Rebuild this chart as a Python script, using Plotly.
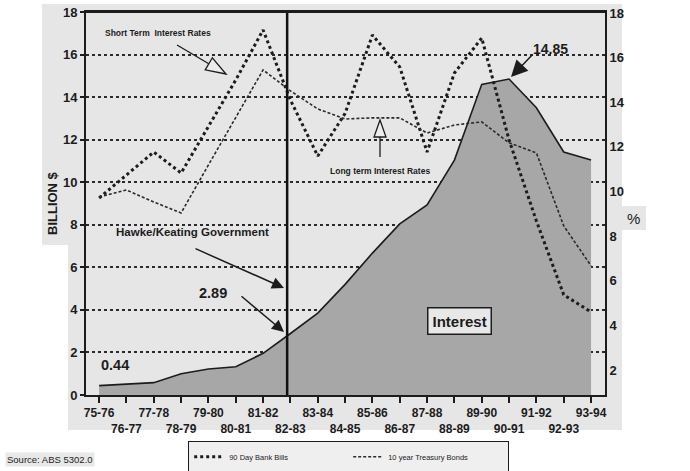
import plotly.graph_objects as go

categories = ["75-76", "76-77", "77-78", "78-79", "79-80", "80-81", "81-82", "82-83",
              "83-84", "84-85", "85-86", "86-87", "87-88", "88-89", "89-90", "90-91",
              "91-92", "92-93", "93-94"]
interest_bn = [0.44, 0.50, 0.58, 1.00, 1.22, 1.33, 1.96, 2.89, 3.85, 5.20, 6.67, 8.04,
               8.93, 11.04, 14.60, 14.85, 13.50, 11.42, 11.04]
bank_bills_pct = [9.71, 10.74, 11.77, 10.83, 12.94, 15.00, 17.24, 14.10, 11.59, 13.50,
                  17.01, 15.58, 11.77, 15.31, 16.88, 12.31, 8.68, 5.37, 4.60]
bonds_pct = [9.76, 10.07, 9.53, 9.04, 11.19, 13.30, 15.45, 14.51, 13.70, 13.25, 13.30,
             13.30, 12.62, 12.98, 13.12, 12.18, 11.73, 8.46, 6.67]
left_ticks = [0, 2, 4, 6, 8, 10, 12, 14, 16, 18]
right_ticks = [2, 4, 6, 8, 10, 12, 14, 16, 18]

FONT = "Liberation Sans, Arial, sans-serif"
INK = "#1c1c1c"
xs = list(range(len(categories)))
ticktext = [c if i % 2 == 0 else "<br>" + c for i, c in enumerate(categories)]

W, H = 690, 471
# plot area edges in pixels (used only to place decorations)
L, R, T, B = 86, 605, 12, 395
XR = [-0.48, 18.51]


def px2x(px):
    return XR[0] + (px - L) / (R - L) * (XR[1] - XR[0])


def px2y(py):
    return (B - py) / (B - T) * 18


def px2px(px):
    return (px - L) / (R - L)


def py2py(py):
    return (B - py) / (B - T)


fig = go.Figure()
fig.add_trace(go.Scatter(x=xs, y=interest_bn, mode="lines", fill="tozeroy",
                         fillcolor="#a7a7a7", line=dict(color=INK, width=1.6),
                         showlegend=False, name="Interest"))
fig.add_trace(go.Scatter(x=xs, y=bank_bills_pct, mode="lines", yaxis="y2",
                         line=dict(color=INK, width=3, dash="dot"),
                         name="90 Day Bank Bills"))
fig.add_trace(go.Scatter(x=xs, y=bonds_pct, mode="lines", yaxis="y2",
                         line=dict(color="#2a2a2a", width=1.6, dash="3px,2px"),
                         name="10 year Treasury Bonds"))

shapes = []
# scanned grey background patches
shapes.append(dict(type="rect", xref="paper", yref="paper", x0=px2px(68), x1=px2px(622),
                   y0=py2py(430), y1=py2py(4), fillcolor="#e6e6e6", line_width=0, layer="below"))
shapes.append(dict(type="rect", xref="paper", yref="paper", x0=px2px(42), x1=px2px(70),
                   y0=py2py(245), y1=py2py(4), fillcolor="#e6e6e6", line_width=0, layer="below"))
shapes.append(dict(type="rect", xref="paper", yref="paper", x0=px2px(620), x1=px2px(646),
                   y0=py2py(230), y1=py2py(206), fillcolor="#e6e6e6", line_width=0, layer="below"))
# Hawke/Keating divider
shapes.append(dict(type="line", xref="x", yref="paper", x0=6.88, x1=6.88, y0=0, y1=1,
                   line=dict(color="#111", width=2.5), layer="above"))
# top frame edge
shapes.append(dict(type="line", xref="paper", yref="paper", x0=0, x1=1, y0=1, y1=1,
                   line=dict(color=INK, width=2), layer="above"))


def hollow_arrow(tail, tip, hl, hw):
    import math
    dx, dy = tip[0] - tail[0], tip[1] - tail[1]
    n = math.hypot(dx, dy)
    ux, uy = dx / n, dy / n
    bx, by = tip[0] - hl * ux, tip[1] - hl * uy
    px_, py_ = -uy, ux
    c1 = (bx + hw * px_, by + hw * py_)
    c2 = (bx - hw * px_, by - hw * py_)
    out = [dict(type="line", xref="x", yref="y", x0=px2x(tail[0]), y0=px2y(tail[1]),
                x1=px2x(bx), y1=px2y(by), line=dict(color=INK, width=1.3), layer="above")]
    path = "M {} {} L {} {} L {} {} Z".format(px2x(tip[0]), px2y(tip[1]),
                                               px2x(c1[0]), px2y(c1[1]),
                                               px2x(c2[0]), px2y(c2[1]))
    out.append(dict(type="path", xref="x", yref="y", path=path, fillcolor="#ececec",
                    line=dict(color=INK, width=1.3), layer="above"))
    return out


shapes += hollow_arrow((177, 45), (226, 74), 20, 7)
shapes += hollow_arrow((380, 157), (380, 120), 17, 6)


def label(text, px, py, size, bold=True, **kw):
    return dict(text=text, x=px2x(px), y=px2y(py), showarrow=False,
                xanchor="center", yanchor="middle",
                font=dict(family=FONT, size=size, color=INK,
                          weight="bold" if bold else "normal"), **kw)


def arrow(tip, dx, dy, size):
    return dict(text="", x=px2x(tip[0]), y=px2y(tip[1]), ax=dx, ay=dy, showarrow=True,
                arrowhead=2, arrowsize=size, arrowwidth=1.5, arrowcolor=INK)


annotations = [
    label("Short Term  Interest Rates", 158, 33, 8.5),
    label("Long term Interest Rates", 380, 171, 8.5),
    label("Hawke/Keating Government", 192, 232, 11.5),
    arrow((284, 288), -90, -40, 1.6),
    label("2.89", 213, 293, 14.5),
    arrow((284, 332), -44, -37, 1.6),
    label("0.44", 115, 365, 14.5),
    label("14.85", 550, 49, 14),
    arrow((511, 77), 23, -24, 2.2),
    label("Interest", 459, 321, 15, bgcolor="#e8e8e8", bordercolor=INK,
          borderwidth=1.5, borderpad=4),
    dict(text="BILLION $", xref="paper", yref="paper", x=px2px(52), y=py2py(203),
         xanchor="center", yanchor="middle", textangle=-90, showarrow=False,
         font=dict(family=FONT, size=13, color=INK, weight="bold")),
    dict(text="%", xref="paper", yref="paper", x=px2px(633), y=py2py(218),
         xanchor="center", yanchor="middle", showarrow=False,
         font=dict(family=FONT, size=15, color=INK)),
    dict(text="Source: ABS 5302.0", xref="paper", yref="paper", x=px2px(5), y=py2py(459),
         xanchor="left", yanchor="middle", showarrow=False, bgcolor="#e8e8e8",
         font=dict(family=FONT, size=9.5, color=INK)),
]

fig.update_layout(
    width=W, height=H,
    margin=dict(l=L, r=W - R, t=T, b=H - B, autoexpand=False),
    paper_bgcolor="white", plot_bgcolor="#e6e6e6",
    font=dict(family=FONT, color=INK),
    xaxis=dict(range=XR, tickmode="array", tickvals=xs, ticktext=ticktext, tickangle=0,
               ticks="outside", ticklen=6, tickwidth=1.5, tickcolor=INK,
               showline=True, linecolor=INK, linewidth=2, mirror=True,
               showgrid=False, zeroline=False, automargin=False,
               ticklabeloverflow="allow",
               tickfont=dict(family=FONT, size=12, color=INK, weight="bold")),
    yaxis=dict(range=[0, 18], tickmode="array", tickvals=left_ticks,
               ticks="outside", ticklen=4, tickwidth=1.5, tickcolor=INK,
               showline=True, linecolor=INK, linewidth=2, automargin=False,
               showgrid=True, gridcolor="#2a2a2a", gridwidth=1.5, griddash="dot",
               zeroline=False, ticklabeloverflow="allow",
               tickfont=dict(family=FONT, size=13, color=INK, weight="bold")),
    yaxis2=dict(range=[0.88, 18.045], overlaying="y", side="right", tickmode="array",
                tickvals=right_ticks, showgrid=False, zeroline=False, automargin=False,
                showline=True, linecolor=INK, linewidth=2, ticks="",
                ticklabeloverflow="allow",
                tickfont=dict(family=FONT, size=13, color=INK, weight="bold")),
    legend=dict(orientation="h", x=px2px(188), y=py2py(441), xanchor="left", yanchor="top",
                bgcolor="#efefef", bordercolor=INK, borderwidth=1.2,
                entrywidth=114, entrywidthmode="pixels",
                font=dict(family=FONT, size=7.5, color=INK)),
    shapes=shapes,
    annotations=annotations,
)

fig.write_html("out.html", config={"displayModeBar": False},
               post_script="document.body.style.margin='0';document.body.style.overflow='hidden';")
